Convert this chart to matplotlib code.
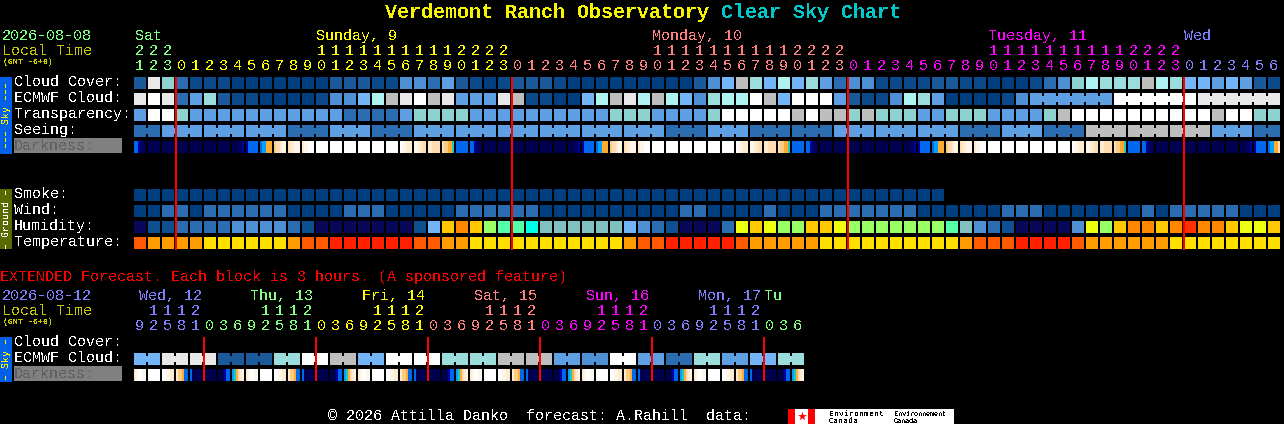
import matplotlib
matplotlib.use('Agg')
import matplotlib.pyplot as plt

plt.rcParams['font.family'] = ['Liberation Mono', 'DejaVu Sans Mono']
plt.rcParams['text.antialiased'] = False
plt.rcParams['text.hinting'] = 'no_autohint'
plt.rcParams['text.hinting_factor'] = 1

# colour codes used by cloud, transparency and seeing rows
CLOUD_COLOURS = ['#003f7f', '#0b4a8a', '#1a5a9a', '#2c6cb0', '#4f8fd5', '#5f9fe3', '#74b5f8',
                 '#9bdcdc', '#aef2f2', '#bebebe', '#e8e8e8', '#ffffff', '#8fd3d0']
HUMIDITY_COLOURS = ['#08085a', '#0e4f8f', '#2c6cb0', '#2c6cb0', '#4f90d5', '#72b4f5', '#80c0c0',
                    '#00ffe6', '#55ffaa', '#99ff66', '#eeff11', '#ffc800', '#ff8800', '#ff3000']
TEMP_COLOURS = ['#ff2000', '#ff5a00', '#ff9c00', '#ffde00']
DARK_COLOURS = {'W': '#ffffff', 'c': '#fff6ea', 'd': '#ffebd0', 'e': '#ffddb0', 'f': '#ffcb80',
                'g': '#ffaa30', 't': '#20c8c8', 'l': '#00a0ff', 'b': '#0068ee', 'B': '#0030c0',
                'm': '#0000a0', 'N': '#000060', 'n': '#000050'}

CLOUD = [2, 10, 12, 3, 1, 1, 1, 0, 0, 0,
         0, 0, 0, 0, 2, 2, 2, 1, 1, 4,
         4, 3, 5, 2, 1, 0, 1, 2, 2, 2,
         1, 0, 0, 0, 0, 0, 0, 0, 0, 0,
         2, 4, 6, 9, 7, 6, 8, 6, 7, 5,
         3, 4, 4, 1, 1, 1, 1, 2, 2, 1,
         1, 0, 0, 0, 1, 3, 4, 12, 8, 7,
         7, 7, 9, 8, 7, 6, 6, 5, 6, 5,
         2, 1]
ECMWF = [10, 11, 10, 3, 5, 7, 2, 1, 1, 0,
         0, 0, 0, 1, 4, 4, 6, 8, 9, 10,
         11, 9, 10, 5, 5, 5, 10, 9, 1, 1,
         0, 0, 6, 8, 9, 10, 8, 9, 8, 6,
         4, 7, 8, 8, 11, 9, 6, 11, 11, 11,
         5, 2, 1, 1, 4, 8, 7, 5, 0, 0,
         0, 0, 1, 4]
ECMWF_BLOCKS = [5, 11, 10]  # last three runs, six columns each
TRANSPARENCY = [5, 11, 11, 12, 5, 5, 5, 5, 5, 5,
                5, 5, 5, 5, 5, 3, 3, 3, 3, 5,
                12, 12, 12, 12, 5, 5, 5, 5, 5, 5,
                5, 5, 5, 5, 12, 12, 12, 5, 5, 5,
                5, 12, 11, 11, 11, 11, 11, 9, 11, 9,
                9, 12, 9, 12, 12, 12, 5, 5, 12, 12,
                12, 5, 5, 5, 5, 12, 9, 11, 11, 11,
                11, 11, 11, 11, 11, 11, 11, 9, 11, 11,
                12, 12]
SEEING_BLOCKS = [3, 5, 5, 5, 3, 5, 3, 5, 5, 5, 5, 5, 5, 3, 5, 3, 3, 5, 5, 5, 3, 5, 3, 9, 9, 9, 5, 3]
SMOKE = [0] * 58
WIND = [0, 0, 3, 3, 0, 3, 3, 3, 3, 3,
        3, 0, 0, 0, 0, 3, 3, 3, 0, 0,
        0, 0, 0, 3, 3, 3, 3, 3, 3, 0,
        0, 0, 0, 0, 0, 0, 0, 0, 0, 3,
        3, 0, 0, 0, 0, 3, 0, 0, 0, 3,
        3, 3, 3, 3, 3, 3, 0, 0, 0, 0,
        0, 0, 3, 3, 3, 0, 0, 0, 0, 0,
        0, 0, 3, 0, 3, 3, 3, 3, 3, 0,
        0, 0]
HUMIDITY = [0, 1, 1, 3, 3, 3, 3, 4, 4, 4,
            4, 3, 1, 0, 0, 0, 0, 0, 0, 0,
            1, 5, 11, 12, 11, 9, 8, 8, 7, 6,
            6, 6, 6, 6, 6, 5, 4, 3, 1, 0,
            0, 0, 3, 10, 11, 10, 9, 9, 11, 11,
            10, 9, 9, 9, 9, 9, 9, 9, 8, 6,
            4, 3, 1, 0, 0, 0, 0, 4, 10, 9,
            11, 12, 12, 11, 12, 13, 12, 12, 11, 10,
            10, 11]
TEMPERATURE = [1, 2, 2, 2, 2, 3, 3, 3, 3, 3,
               3, 2, 1, 1, 0, 0, 0, 0, 0, 0,
               1, 1, 2, 2, 3, 3, 3, 3, 3, 3,
               3, 3, 3, 3, 3, 2, 1, 1, 0, 0,
               0, 0, 0, 1, 2, 2, 2, 2, 2, 3,
               3, 3, 3, 3, 3, 3, 3, 3, 3, 2,
               1, 1, 1, 0, 0, 0, 0, 1, 2, 2,
               2, 2, 2, 2, 3, 3, 3, 3, 3, 3,
               3, 3]

# one day of the darkness strip, six samples per block, starts at hour 21
DARK_DAY = ['bbmNNn', 'nnnnnn', 'nnnnnn', 'nnnnnn', 'nnnnnn', 'nnnnnn', 'nnnnnn', 'nnnNNm',
            'mbbbbb', 'bllggg', 'feedcc', 'eddccc', 'dccWWW', 'WWWWWW', 'WWWWWW', 'WWWWWW',
            'WWWWWW', 'WWWWWW', 'WWWWWW', 'Wccddd', 'ccddee', 'ddeeee', 'effggt', 'bbbbbb']
DARK_TAIL = ['bllgge']

EXT_ECMWF = [6, 10, 10, 2, 2, 7, 11, 9, 6, 11, 11, 7, 7, 9, 9, 5, 4, 11, 5, 3, 7, 5, 6, 7]
EXT_DARK_DAY = ['dcWWcc', 'WWWWWW', 'WWccdd', 'dffgbb', 'bnnnnn', 'nnnnnn', 'nnnmbb', 'ltgedc']

HOURS = [21, 22, 23] + list(range(24)) * 3 + list(range(7))
HOUR_COLOURS = ['#80ff80'] * 3 + ['#ffff00'] * 24 + ['#ff8080'] * 24 + ['#ff00ff'] * 24 + ['#8080ff'] * 7
EXT_HOURS = [9, 12, 15, 18, 21] + [0, 3, 6, 9, 12, 15, 18, 21] * 5 + [0, 3, 6]
EXT_COLOURS = (['#8080ff'] * 5 + ['#80ff80'] * 8 + ['#ffff00'] * 8 + ['#ff8080'] * 8
               + ['#ff00ff'] * 8 + ['#8080ff'] * 8 + ['#80ff80'] * 3)
EXT_DAYS = ['Wed, 12', 'Thu, 13', 'Fri, 14', 'Sat, 15', 'Sun, 16', 'Mon, 17']
EXT_DAY_COLOURS = ['#8080ff', '#80ff80', '#ffff00', '#ff8080', '#ff00ff', '#8080ff']

X0 = 134
PITCH = 14
CELL = 12

fig = plt.figure(figsize=(12.84, 4.24), dpi=100, facecolor='black')
ax = fig.add_axes([0, 0, 1, 1])
ax.set_xlim(0, 1284)
ax.set_ylim(424, 0)
ax.axis('off')


def label(x, y, s, color='white', size=10.8, **kw):
    ax.text(x, y, s, color=color, fontsize=size, va='baseline', **kw)


def rect(x, y, w, h, color, z=2):
    ax.bar(x, h, width=w, bottom=y, align='edge', color=color, linewidth=0, antialiased=False, zorder=z)


def draw_row(top, values, colours, first=0):
    for i, v in enumerate(values):
        rect(X0 + (first + i) * PITCH, top, CELL, CELL, colours[v])


def draw_blocks(top, blocks, sizes, colours, first=0):
    # runs of equal forecast steps, joined by a short bar in the gaps
    col = first
    for v, n in zip(blocks, sizes):
        for i in range(n):
            rect(X0 + (col + i) * PITCH, top, CELL, CELL, colours[v])
            if i < n - 1:
                rect(X0 + (col + i) * PITCH + CELL, top + 3, PITCH - CELL, CELL - 6, colours[v])
        col += n


def draw_dark(top, cells):
    for i, cell in enumerate(cells):
        for k, code in enumerate(cell):
            rect(X0 + i * PITCH + k * CELL / len(cell), top, CELL / len(cell), CELL, DARK_COLOURS[code])


def draw_hours(tens_y, units_y, hours, colours):
    for i, (h, c) in enumerate(zip(hours, colours)):
        x = X0 + i * PITCH + 5.5
        if h >= 10:
            label(x, tens_y, str(h // 10), c, ha='center')
        label(x, units_y, str(h % 10), c, ha='center')


# title
label(385, 18, 'Verdemont Ranch Observatory', '#f5f500', 14.4, fontweight='bold')
label(721, 18, 'Clear Sky Chart', '#00c8c8', 14.4, fontweight='bold')

# main header
label(2, 40, '2026-08-08', '#80ff80')
label(2, 55, 'Local Time', '#c8c800')
label(3, 64, '(GMT -6+0)', '#c8c800', 5.8, fontweight='bold')
label(135, 40, 'Sat', '#80ff80')
label(316, 40, 'Sunday, 9', '#ffff00')
label(652, 40, 'Monday, 10', '#ff8080')
label(988, 40, 'Tuesday, 11', '#ff00ff')
label(1184, 40, 'Wed', '#8080ff')
draw_hours(55, 70, HOURS, HOUR_COLOURS)

# sky panel
rect(0, 77, 12, 77, '#0060e8')
ax.text(6, 115, '\u2013\u2013\u2013 Sky \u2013\u2013\u2013', color='#f5f500', fontsize=7.2, rotation=90, ha='center', va='center')
for y, s in zip([86, 102, 118, 134], ['Cloud Cover:', 'ECMWF Cloud:', 'Transparency:', 'Seeing:']):
    label(14, y, s)
rect(14, 138, 108, 15, '#808080')
label(14, 150, 'Darkness:', '#606060')

draw_row(77, CLOUD, CLOUD_COLOURS)
draw_row(93, ECMWF, CLOUD_COLOURS)
draw_blocks(93, ECMWF_BLOCKS, [6, 6, 6], CLOUD_COLOURS, first=len(ECMWF))
draw_row(109, TRANSPARENCY, CLOUD_COLOURS)
draw_blocks(125, SEEING_BLOCKS, [2] + [3] * 26 + [2], CLOUD_COLOURS)
draw_dark(141, (DARK_DAY * 4)[:81] + DARK_TAIL)

# ground panel
rect(0, 189, 12, 60, '#5a6a00')
ax.text(6, 219, '\u2013 Ground \u2013', color='white', fontsize=7.2, rotation=90, ha='center', va='center')
for y, s in zip([198, 214, 230, 246], ['Smoke:', 'Wind:', 'Humidity:', 'Temperature:']):
    label(14, y, s)
draw_row(189, SMOKE, CLOUD_COLOURS)
draw_row(205, WIND, CLOUD_COLOURS)
draw_row(221, HUMIDITY, HUMIDITY_COLOURS)
draw_row(237, TEMPERATURE, TEMP_COLOURS)

# midnight markers
for col in [3, 27, 51, 75]:
    rect(X0 + col * PITCH - 1, 77, 2.4, 173, '#ff0000', z=3)

# extended forecast
label(0, 281, 'EXTENDED Forecast. Each block is 3 hours. (A sponsored feature)', '#ff0000')
label(2, 300, '2026-08-12', '#8080ff')
label(2, 315, 'Local Time', '#c8c800')
label(3, 324, '(GMT -6+0)', '#c8c800', 5.8, fontweight='bold')
for s, c, x in zip(EXT_DAYS, EXT_DAY_COLOURS, [139, 250, 362, 474, 586, 698]):
    label(x, 300, s, c)
label(764, 300, 'Tu', '#80ff80')
draw_hours(315, 330, EXT_HOURS, EXT_COLOURS)

rect(0, 337, 12, 45, '#0060e8')
ax.text(6, 359, '\u2013 Sky \u2013', color='#f5f500', fontsize=7.2, rotation=90, ha='center', va='center')
label(14, 346, 'Cloud Cover:')
label(14, 362, 'ECMWF Cloud:')
rect(14, 366, 108, 15, '#808080')
label(14, 378, 'Darkness:', '#606060')
draw_blocks(353, EXT_ECMWF, [2] * 24, CLOUD_COLOURS)
draw_dark(369, (EXT_DARK_DAY * 6))
for col in [5, 13, 21, 29, 37, 45]:
    rect(X0 + col * PITCH - 1, 337, 2.4, 44, '#ff0000', z=3)

# footer
label(328, 420, '\u00a9 2026 Attilla Danko  forecast: A.Rahill  data:')
rect(788, 409, 166, 15, '#ffffff')
rect(788, 409, 7, 15, '#ff0000', z=3)
rect(808, 409, 7, 15, '#ff0000', z=3)
ax.scatter([801.5], [416], s=45, marker='*', color='#ff0000', linewidths=0, zorder=3)
for x, word, size in zip([829, 894], ['Environment', 'Environnement'], [5.6, 5.0]):
    ax.text(x, 416, word, color='black', fontsize=size, va='baseline', zorder=4)
    ax.text(x, 423, 'Canada', color='black', fontsize=size, va='baseline', zorder=4)

fig.savefig('out.png', dpi=100, facecolor='black')
